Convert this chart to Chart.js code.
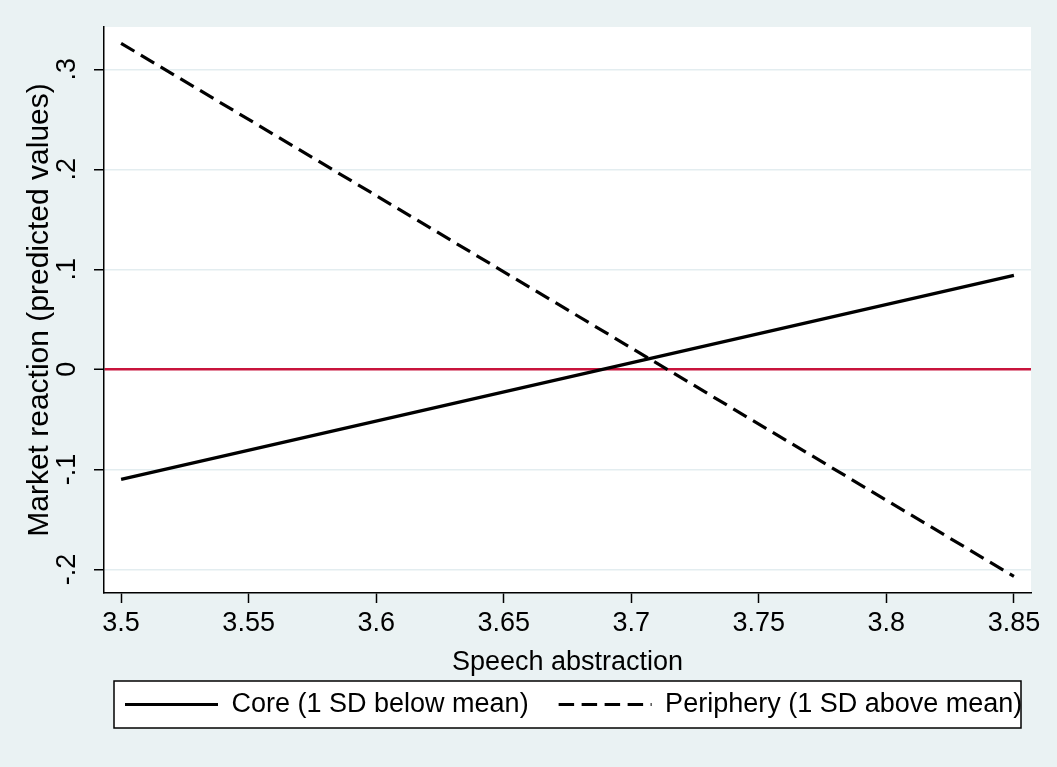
<!DOCTYPE html>
<html>
<head>
<meta charset="utf-8">
<script src="https://cdn.jsdelivr.net/npm/chart.js@4"></script>
<style>
  html, body { margin: 0; padding: 0; background: #eaf2f3; }
  #wrap { width: 1057px; height: 767px; position: relative; }
</style>
</head>
<body>
<div id="wrap"><canvas id="marginsChart"></canvas></div>
<script>
// Predicted market reaction by speech abstraction

const xValues = [3.5, 3.85];
const coreValues = [-0.110, 0.094];
const peripheryValues = [0.326, -0.207];
const xTicks = [3.5, 3.55, 3.6, 3.65, 3.7, 3.75, 3.8, 3.85];
const yTicks = [-0.2, -0.1, 0, 0.1, 0.2, 0.3];
const seriesLabels = ['Core (1 SD below mean)', 'Periphery (1 SD above mean)'];

const FONT = "'Liberation Sans', Arial, sans-serif";
const FS = 27;
const BG = '#eaf2f3';

function stataNum(v) {
  // Stata style: .3, -.2, 0
  let s = String(Math.round(v * 100) / 100);
  return s.replace(/^(-?)0\./, '$1.');
}

function toPoints(xs, ys) {
  return xs.map((x, i) => ({ x: x, y: ys[i] }));
}

// background, white plot region, legend frame, rotated y labels
const stataFrame = {
  id: 'stataFrame',
  afterLayout(chart) {
    // shift legend entries so they start just inside the legend frame
    const lg = chart.legend;
    const pad = lg.options.labels.padding;
    const start = chart.chartArea.left + 21;
    lg.right = chart.width + 100;
    lg.left = 2 * start - pad - lg.right + lg.lineWidths[0];
    lg.width = lg.right - lg.left;
  },
  beforeDraw(chart) {
    const { ctx, chartArea, legend } = chart;
    ctx.save();
    ctx.fillStyle = BG;
    ctx.fillRect(0, 0, chart.width, chart.height);
    ctx.fillStyle = '#ffffff';
    ctx.fillRect(chartArea.left, chartArea.top, chartArea.right - chartArea.left, chartArea.bottom - chartArea.top);

    const pad = legend.options.labels.padding;
    const cy = legend.top + pad + FS / 2;
    const lx = chartArea.left + 10;
    const rx = chartArea.right - 10;
    ctx.fillRect(lx, cy - 23.5, rx - lx, 47);
    ctx.strokeStyle = '#000000';
    ctx.lineWidth = 1.5;
    ctx.strokeRect(lx, cy - 23.5, rx - lx, 47);
    ctx.restore();
  },
  afterDraw(chart) {
    const { ctx, chartArea } = chart;
    const y = chart.scales.y;
    ctx.save();
    ctx.font = FS + 'px ' + FONT;
    ctx.fillStyle = '#000000';
    ctx.textAlign = 'center';
    ctx.textBaseline = 'middle';
    y.ticks.forEach(t => {
      ctx.save();
      ctx.translate(chartArea.left - 36, y.getPixelForValue(t.value));
      ctx.rotate(-Math.PI / 2);
      ctx.fillText(stataNum(t.value), 0, 0);
      ctx.restore();
    });
    ctx.restore();
  }
};

window.addEventListener('DOMContentLoaded', function () {
  const ctx = document.getElementById('marginsChart');

  new Chart(ctx, {
    type: 'line',
    data: {
      datasets: [
        {
          label: seriesLabels[0],
          data: toPoints(xValues, coreValues),
          borderColor: '#000000',
          backgroundColor: '#000000',
          borderWidth: 3.2,
          pointRadius: 0,
          tension: 0,
        },
        {
          label: seriesLabels[1],
          data: toPoints(xValues, peripheryValues),
          borderColor: '#000000',
          backgroundColor: '#000000',
          borderWidth: 3.2,
          borderDash: [15.5, 7.5],
          pointRadius: 0,
          tension: 0,
        },
      ],
    },
    options: {
      responsive: true,
      maintainAspectRatio: false,
      animation: false,
      layout: {
        padding: { top: 27, right: 26, bottom: 39, left: 0 },
      },
      scales: {
        x: {
          type: 'linear',
          min: 3.4933,
          max: 3.8567,
          afterBuildTicks(scale) {
            scale.ticks = xTicks.map(v => ({ value: v }));
          },
          afterFit(scale) {
            scale.height = 68;
          },
          ticks: {
            padding: 4,
            color: '#000000',
            maxRotation: 0,
            font: { family: FONT, size: FS },
            callback: v => stataNum(v),
          },
          grid: {
            drawOnChartArea: false,
            tickLength: 10,
            tickColor: '#000000',
            tickWidth: 1.5,
          },
          border: { color: '#000000', width: 1.5 },
          title: {
            display: true,
            text: 'Speech abstraction',
            color: '#000000',
            font: { family: FONT, size: FS },
            padding: { top: 0, bottom: -18.2 },
          },
        },
        y: {
          type: 'linear',
          min: -0.2236,
          max: 0.3423,
          afterBuildTicks(scale) {
            scale.ticks = yTicks.map(v => ({ value: v }));
          },
          afterFit(scale) {
            scale.width = 104;
          },
          ticks: { display: false },
          grid: {
            color: c => (c.tick && Math.abs(c.tick.value) < 1e-9 ? '#c8143c' : '#e3edf0'),
            lineWidth: c => (c.tick && Math.abs(c.tick.value) < 1e-9 ? 2.5 : 1.5),
            tickLength: 10,
            tickColor: '#000000',
            tickWidth: 1.5,
          },
          border: { color: '#000000', width: 1.5 },
          title: {
            display: true,
            text: 'Market reaction (predicted values)',
            color: '#000000',
            font: { family: FONT, size: 30 },
            padding: { top: 22, bottom: 0 },
          },
        },
      },
      plugins: {
        legend: {
          position: 'bottom',
          labels: {
            color: '#000000',
            font: { family: FONT, size: FS },
            usePointStyle: true,
            pointStyle: 'line',
            pointStyleWidth: 93,
            padding: 30,
            generateLabels(chart) {
              const items = Chart.defaults.plugins.legend.labels.generateLabels(chart);
              items.forEach(it => {
                it.lineDash = chart.data.datasets[it.datasetIndex].borderDash || [];
              });
              return items;
            },
          },
        },
        tooltip: { enabled: false },
      },
    },
    plugins: [stataFrame],
  });
});
</script>
</body>
</html>
